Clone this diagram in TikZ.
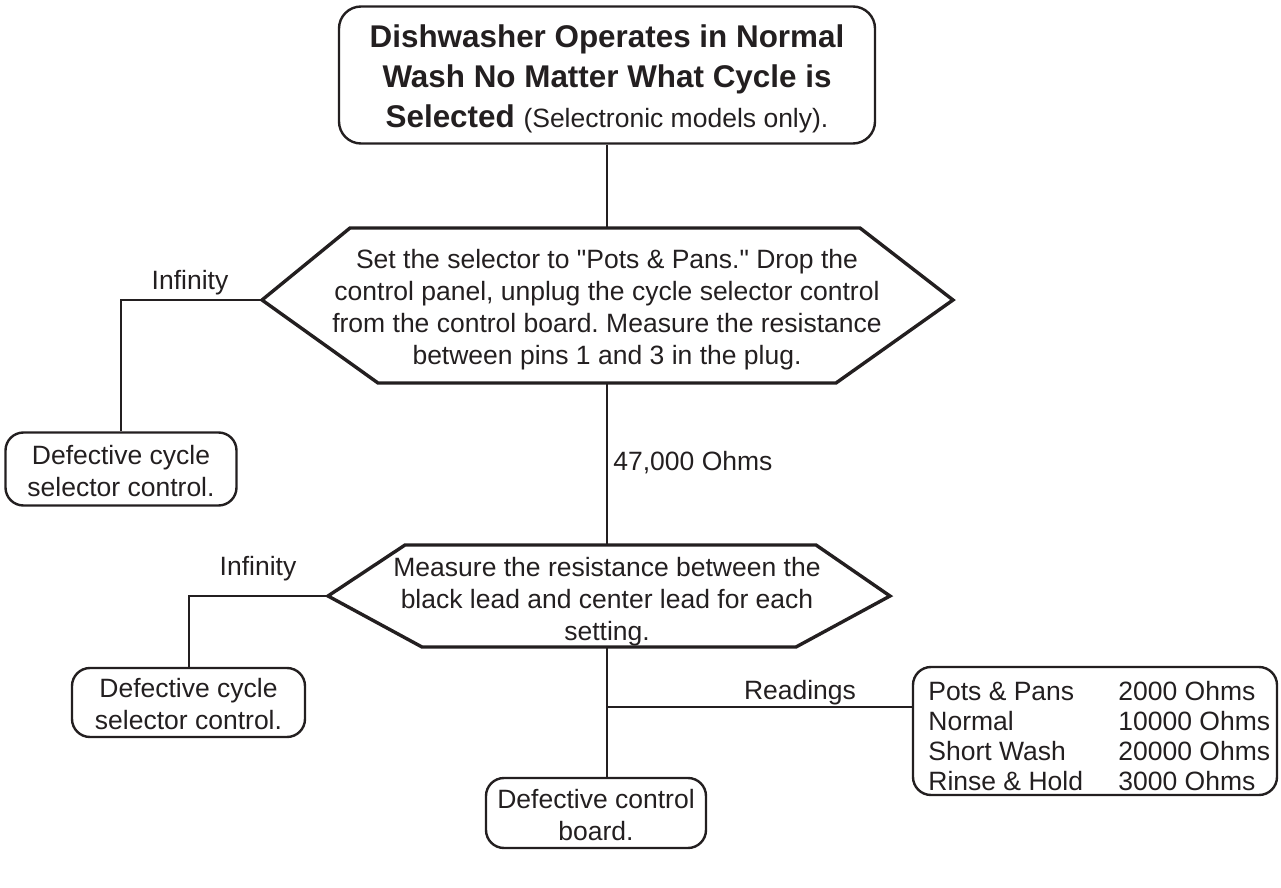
\documentclass[tikz,border=0pt]{standalone}
\usepackage{fontspec}
\setmainfont{Liberation Sans}
\frenchspacing
\definecolor{inkc}{HTML}{231F20}
\newcommand\bodyfont{\fontsize{13.25}{16}\selectfont}
\newcommand\headfont{\fontsize{15.7}{20}\selectfont\bfseries}
\begin{document}
\begin{tikzpicture}[x=0.5pt,y=-0.5pt,
  conn/.style={draw=inkc, line width=1pt},
  rbox/.style={draw=inkc, line width=1.2pt, rounded corners=9pt, inner sep=0pt},
  hexline/.style={draw=inkc, line width=1.7pt, line join=miter},
  txt/.style={inner sep=0pt, align=center, font=\bodyfont, text=inkc}]
\useasboundingbox (0,0) rectangle (1281,888);

% top box
\node[rbox, rounded corners=11pt, minimum width=268pt, minimum height=68.5pt] (top) at (607,75) {};
\node[txt, font=\headfont] (topt) at (607,79)
  {Dishwasher Operates in Normal\\Wash No Matter What Cycle is\\Selected {\normalfont\bodyfont (Selectronic models only).}};

% hexagon 1
\coordinate (h1l) at (262,300);
\coordinate (h1tl) at (350,228);
\coordinate (h1tr) at (860,228);
\coordinate (h1r) at (953,300);
\coordinate (h1br) at (836,383);
\coordinate (h1bl) at (378,383);
\coordinate (h1t) at (607,228);
\coordinate (h1b) at (607,383);
\draw[hexline] (h1l) -- (h1tl) -- (h1tr) -- (h1r) -- (h1br) -- (h1bl) -- cycle;
\node[txt] (h1) at (607,310) {Set the selector to \textquotedbl Pots \& Pans.\textquotedbl\ Drop the\\control panel, unplug the cycle selector control\\from the control board. Measure the resistance\\between pins 1 and 3 in the plug.};

% hexagon 2
\coordinate (h2l) at (328,596);
\coordinate (h2tl) at (405,545);
\coordinate (h2tr) at (816,545);
\coordinate (h2r) at (890,596);
\coordinate (h2br) at (796,647);
\coordinate (h2bl) at (422,647);
\coordinate (h2t) at (607,545);
\coordinate (h2b) at (607,647);
\draw[hexline] (h2l) -- (h2tl) -- (h2tr) -- (h2r) -- (h2br) -- (h2bl) -- cycle;
\node[txt] (h2) at (607,602) {Measure the resistance between the\\black lead and center lead for each\\setting.};

% outcome boxes
\node[rbox, minimum width=115.5pt, minimum height=36.5pt] (d1) at (121,469) {};
\node[txt] (d1t) at (121,471) {Defective cycle\\selector control.};
\node[rbox, minimum width=116.5pt, minimum height=34.5pt] (d2) at (188.5,702.5) {};
\node[txt] (d2t) at (188.5,704) {Defective cycle\\selector control.};
\node[rbox, minimum width=110pt, minimum height=35pt] (d3) at (596,813) {};
\node[txt] (d3t) at (596,815.5) {Defective control\\board.};
\node[rbox, minimum width=182pt, minimum height=64pt] (rd) at (1095,731) {};
\node[txt, anchor=west] (rdt) at (928,739)
  {\fontsize{13.25}{15}\selectfont\begin{tabular}{@{}p{95pt}@{}l@{}}
   Pots \& Pans & 2000 Ohms\\
   Normal & 10000 Ohms\\
   Short Wash & 20000 Ohms\\
   Rinse \& Hold & 3000 Ohms
  \end{tabular}};

% labels
\node[txt] (inf1) at (190,283) {Infinity};
\node[txt] (inf2) at (258,569) {Infinity};
\node[txt, anchor=west] (ohm) at (613,463) {47,000 Ohms};
\node[txt] (rdl) at (800,693) {Readings};

% connectors
\draw[conn] (top.south) -- (h1t);
\draw[conn] (h1l) -| (d1.north);
\draw[conn] (h1b) -- (h2t);
\draw[conn] (h2l) -| (d2.north);
\draw[conn] (h2b) -- (h2b |- d3.north);
\coordinate (br) at (607,707);
\draw[conn] (br) -- (br -| rd.west);
\end{tikzpicture}
\end{document}
